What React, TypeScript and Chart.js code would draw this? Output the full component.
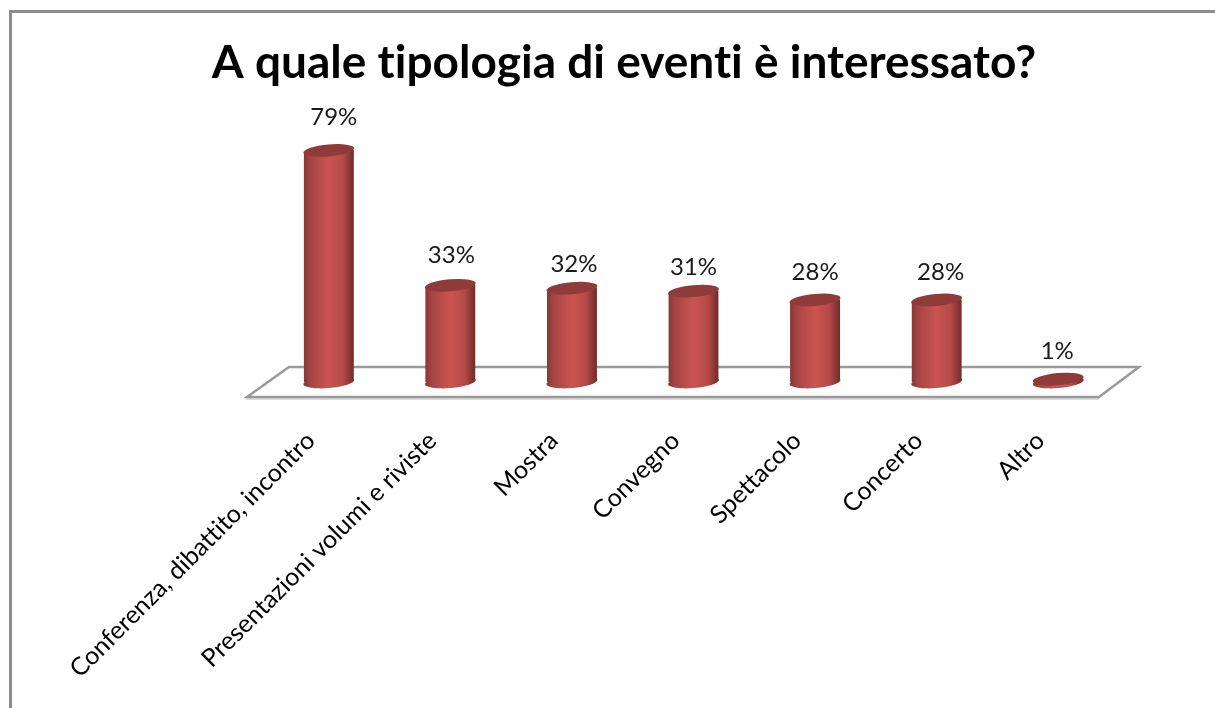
import React, { useEffect, useRef } from "react";
import { Chart, registerables } from "chart.js";

Chart.register(...registerables);

const titleText = "A quale tipologia di eventi è interessato?";
const categories = [
  "Conferenza, dibattito, incontro",
  "Presentazioni volumi e riviste",
  "Mostra",
  "Convegno",
  "Spettacolo",
  "Concerto",
  "Altro",
];
const percentages = [79, 33, 32, 31, 28, 28, 1];
// Distance of each percentage label from the top of its cylinder.
const labelLift = [33, 30, 24, 24, 28, 28, 28];
const labelShift = [5, 1, 2, 0, 0, 4, -1];

const FONT = "Lato, Carlito, 'Open Sans', sans-serif";
const BAR_WIDTH = 50;
const TILT = (-5 * Math.PI) / 180;
const RY = 6;
const RX = 25.5;
const SLOPE = 2.2;

function bodyGradient(c: CanvasRenderingContext2D, x: number) {
  const g = c.createLinearGradient(x - BAR_WIDTH / 2, 0, x + BAR_WIDTH / 2, 0);
  g.addColorStop(0, "#863835");
  g.addColorStop(0.12, "#a44442");
  g.addColorStop(0.5, "#cb5452");
  g.addColorStop(0.78, "#b64a48");
  g.addColorStop(1, "#6f2b2a");
  return g;
}

const framePlugin = {
  id: "frame",
  beforeDraw(chart: any) {
    const c = chart.ctx;
    // Avoids the "ti" ligature of Lato, which the reference does not have.
    c.letterSpacing = "0.01px";
    c.save();
    c.fillStyle = "#ffffff";
    c.fillRect(0, 0, chart.width, chart.height);
    c.strokeStyle = "#8c8c8c";
    c.lineWidth = 3;
    c.beginPath();
    c.moveTo(10.5, chart.height);
    c.lineTo(10.5, 11.5);
    c.lineTo(chart.width, 11.5);
    c.stroke();
    c.restore();
  },
};

const floorPlugin = {
  id: "floor",
  beforeDatasetsDraw(chart: any) {
    const c = chart.ctx;
    const { left, right } = chart.chartArea;
    const base = chart.scales.y.getPixelForValue(0);
    const front = base + 15;
    const back = base - 15;
    c.save();
    c.fillStyle = "#ffffff";
    c.beginPath();
    c.moveTo(left - 21, front);
    c.lineTo(left + 21, back);
    c.lineTo(right + 20, back);
    c.lineTo(right - 20, front);
    c.closePath();
    c.fill();
    c.strokeStyle = "#dcdcdc";
    c.lineWidth = 2;
    c.beginPath();
    c.moveTo(left - 22, front + 2);
    c.lineTo(right - 20, front + 2);
    c.stroke();
    c.strokeStyle = "#9a9a9a";
    c.lineWidth = 2.5;
    c.beginPath();
    c.moveTo(left - 21, front);
    c.lineTo(left + 21, back);
    c.lineTo(right + 20, back);
    c.lineTo(right - 20, front);
    c.closePath();
    c.stroke();
    // cylinder bases
    const meta = chart.getDatasetMeta(0);
    meta.data.forEach((bar: any) => {
      c.fillStyle = bodyGradient(c, bar.x);
      c.beginPath();
      c.ellipse(bar.x, base, RX, RY, TILT, 0, Math.PI * 2);
      c.fill();
    });
    c.restore();
    // The bodies end along the tilt of the ellipses, so no corner shows.
    c.save();
    c.beginPath();
    meta.data.forEach((bar: any) => {
      const l = bar.x - BAR_WIDTH / 2;
      const r = bar.x + BAR_WIDTH / 2;
      c.moveTo(l, bar.y + SLOPE);
      c.lineTo(r, bar.y - SLOPE);
      c.lineTo(r, base - SLOPE);
      c.lineTo(l, base + SLOPE);
      c.closePath();
    });
    c.clip();
  },
  afterDatasetsDraw(chart: any) {
    chart.ctx.restore();
  },
};

const capsPlugin = {
  id: "caps",
  afterDatasetsDraw(chart: any) {
    const c = chart.ctx;
    const meta = chart.getDatasetMeta(0);
    c.save();
    meta.data.forEach((bar: any, i: number) => {
      c.fillStyle = "#8f3b39";
      c.beginPath();
      c.ellipse(bar.x, bar.y, RX, RY, TILT, 0, Math.PI * 2);
      c.fill();
      c.fillStyle = "#1a1a1a";
      c.font = `24px ${FONT}`;
      c.textAlign = "center";
      c.textBaseline = "middle";
      c.fillText(`${percentages[i]}%`, bar.x + labelShift[i], bar.y - labelLift[i]);
    });
    c.restore();
  },
};

export default function App() {
  const ref = useRef<HTMLCanvasElement | null>(null);

  useEffect(() => {
    if (!ref.current) return;
    const chart = new Chart(ref.current, {
      type: "bar",
      data: {
        labels: categories,
        datasets: [
          {
            data: percentages,
            barThickness: BAR_WIDTH,
            borderWidth: 0,
            backgroundColor: (ctx: any) => {
              const scale = ctx.chart.scales.x;
              const x = scale ? scale.getPixelForValue(ctx.dataIndex) : NaN;
              if (!Number.isFinite(x)) return "#b64a48";
              return bodyGradient(ctx.chart.ctx, x);
            },
          },
        ],
      },
      options: {
        animation: false,
        responsive: false,
        layout: { padding: { left: 129, right: 96, top: 0, bottom: 0 } },
        plugins: {
          legend: { display: false },
          tooltip: { enabled: false },
          title: {
            display: true,
            text: titleText,
            color: "#000000",
            font: { family: FONT, size: 46, weight: "bold" },
            padding: { top: 36, bottom: 27 },
          },
        },
        scales: {
          x: {
            grid: { display: false },
            border: { display: false },
            afterFit(scale: any) {
              scale.height = 708 - 382;
              scale.paddingLeft = 0;
              scale.paddingRight = 0;
            },
            ticks: {
              autoSkip: false,
              maxRotation: 45,
              minRotation: 45,
              padding: 36,
              labelOffset: -18,
              color: "#000000",
              font: { family: FONT, size: 25 },
            },
          },
          y: {
            min: 0,
            max: 90,
            grid: { display: false },
            border: { display: false },
            ticks: { display: false },
            afterFit(scale: any) {
              scale.width = 139;
              scale.paddingTop = 0;
              scale.paddingBottom = 0;
            },
          },
        },
      },
      plugins: [framePlugin, floorPlugin, capsPlugin],
    } as any);
    return () => chart.destroy();
  }, []);

  return (
    <canvas
      ref={ref}
      width={1215}
      height={708}
      style={{ position: "absolute", left: 0, top: 0, width: 1215, height: 708 }}
    />
  );
}
